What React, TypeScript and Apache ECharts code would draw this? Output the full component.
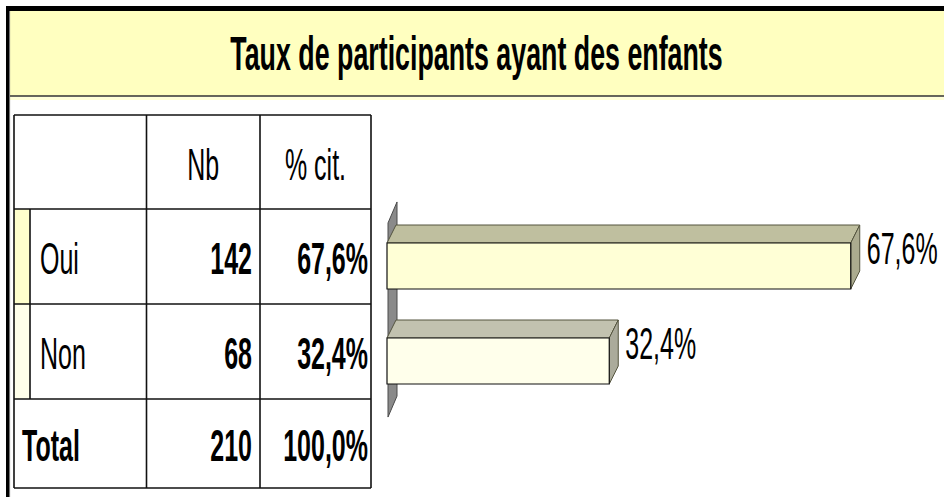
import React, { useEffect, useRef } from 'react';
import * as echarts from 'echarts';

const TITLE = 'Taux de participants ayant des enfants';
const categories = ['Oui', 'Non'];
const counts = [142, 68];
const percents = [67.6, 32.4];
const totalLabel = 'Total';
const totalCount = 210;
const totalPercent = 100.0;
const columnHeaders = ['Nb', '% cit.'];

const fmtPct = (v: number) => v.toFixed(1).replace('.', ',') + '%';

const FONT = '"Liberation Sans", Arial, sans-serif';
const FRONT = ['#FFFFD6', '#FFFFEB'];
const TOP = ['#BFBF9F', '#C2C2AF'];
const SIDE = ['#ABAB8F', '#ABAB9B'];
const STRIP = ['#FFFFCC', '#FFFFEA'];

export default function App() {
  const ref = useRef<HTMLDivElement>(null);

  useEffect(() => {
    const chart = echarts.init(ref.current as HTMLDivElement, null, { renderer: 'svg' });

    const FS = 25;
    const SY = 1.8;
    const txt = (text: string, x: number, y: number, align: string, bold: boolean) => ({
      type: 'text',
      x,
      y: y + 2.5,
      scaleY: SY,
      z: 10,
      style: {
        text,
        x: 0,
        y: 0,
        fontSize: FS,
        fontWeight: bold ? 'bold' : 'normal',
        fontFamily: FONT,
        fill: '#000',
        align,
        textAlign: align,
        verticalAlign: 'middle',
        textVerticalAlign: 'middle',
      },
    });

    // table geometry
    const colX = [14, 146.5, 260, 371];
    const tTop = 115;
    const rowH = [94, ...categories.map(() => 95), 89];
    const rowY: number[] = [tTop];
    rowH.forEach((h, i) => rowY.push(rowY[i] + h));
    const tBottom = rowY[rowY.length - 1];
    const lineStyle = { stroke: '#111', lineWidth: 1.6 };

    const graphics: any[] = [];
    // outer frame
    graphics.push({ type: 'rect', shape: { x: 10, y: 11, width: 940, height: 85 }, style: { fill: '#FFFFC0' } });
    graphics.push({ type: 'rect', shape: { x: 10, y: 96.5, width: 940, height: 3.5 }, style: { fill: '#FFFFD8' } });
    graphics.push({ type: 'line', shape: { x1: 10, y1: 96, x2: 944, y2: 96 }, style: { stroke: '#333', lineWidth: 1.6 } });
    graphics.push({ type: 'rect', shape: { x: 6, y: 6, width: 940, height: 5 }, style: { fill: '#000' } });
    graphics.push({ type: 'rect', shape: { x: 6, y: 6, width: 3, height: 495 }, style: { fill: '#000' } });
    graphics.push({ type: 'line', shape: { x1: 9.6, y1: 11, x2: 9.6, y2: 497 }, style: { stroke: '#666', lineWidth: 1 } });
    // title
    graphics.push({
      type: 'text',
      x: 476.5,
      y: 53.4,
      scaleY: 1.77,
      style: {
        text: TITLE,
        x: 0,
        y: 0,
        fontSize: 26.8,
        fontWeight: 'bold',
        fontFamily: FONT,
        fill: '#000',
        align: 'center',
        textAlign: 'center',
        verticalAlign: 'middle',
        textVerticalAlign: 'middle',
      },
    });

    // category strips
    categories.forEach((_, i) => {
      const y = rowY[i + 1];
      graphics.push({ type: 'rect', shape: { x: colX[0], y, width: 16, height: rowH[i + 1] }, style: { fill: STRIP[i % STRIP.length] } });
      graphics.push({ type: 'line', shape: { x1: colX[0] + 16, y1: y, x2: colX[0] + 16, y2: y + rowH[i + 1] }, style: lineStyle });
    });

    // table grid lines
    rowY.forEach((y) => {
      graphics.push({ type: 'line', shape: { x1: colX[0], y1: y, x2: colX[3], y2: y }, style: lineStyle });
    });
    colX.forEach((x) => {
      graphics.push({ type: 'line', shape: { x1: x, y1: tTop, x2: x, y2: tBottom }, style: lineStyle });
    });

    // header row
    const hc = rowY[0] + rowH[0] / 2;
    graphics.push(txt(columnHeaders[0], (colX[1] + colX[2]) / 2, hc, 'center', false));
    graphics.push(txt(columnHeaders[1], (colX[2] + colX[3]) / 2, hc, 'center', false));

    // data rows
    categories.forEach((c, i) => {
      const cy = rowY[i + 1] + rowH[i + 1] / 2;
      graphics.push(txt(c, 40, cy, 'left', false));
      graphics.push(txt(String(counts[i]), colX[2] - 8, cy, 'right', true));
      graphics.push(txt(fmtPct(percents[i]), colX[3] - 3, cy, 'right', true));
    });

    // total row
    const ti = categories.length + 1;
    const tc = rowY[ti] + rowH[ti] / 2;
    graphics.push(txt(totalLabel, 22, tc, 'left', true));
    graphics.push(txt(String(totalCount), colX[2] - 8, tc, 'right', true));
    graphics.push(txt(fmtPct(totalPercent), colX[3] - 3, tc, 'right', true));

    const DX = 9;
    const DY = -18;

    const option: any = {
      animation: false,
      grid: { left: 387, top: 218.5, height: 190, width: 548.8 },
      xAxis: { type: 'value', min: 0, max: 80, show: false },
      yAxis: { type: 'category', data: categories, inverse: true, show: false },
      series: [
        {
          type: 'custom',
          data: percents.map((v, i) => [v, i]),
          encode: { x: 0, y: 1 },
          renderItem: (params: any, api: any) => {
            const v = api.value(0);
            const ci = api.value(1);
            const p1 = api.coord([v, ci]);
            const p0 = api.coord([0, ci]);
            const x0 = p0[0];
            const x1 = p1[0];
            const cy = p1[1];
            const band = api.size([0, 1])[1];
            const h = band * 0.484;
            const y0 = cy - h / 2;
            const y1 = cy + h / 2;
            const children: any[] = [];
            if (params.dataIndex === 0) {
              const n = categories.length;
              const yTop = api.coord([0, 0])[1] - band * 0.453;
              const yBot = api.coord([0, n - 1])[1] + band * 0.59;
              const wx = x0 + 1;
              children.push({
                type: 'polygon',
                shape: { points: [[wx, yTop], [wx + DX, yTop - 21], [wx + DX, yBot - 21], [wx, yBot]] },
                style: { fill: '#8A8A8A', stroke: '#4A4A4A', lineWidth: 1 },
              });
            }
            const idx = params.dataIndex;
            children.push({
              type: 'polygon',
              shape: { points: [[x0, y0], [x0 + DX, y0 + DY], [x1 + DX, y0 + DY], [x1, y0]] },
              style: { fill: TOP[idx % TOP.length], stroke: '#55553F', lineWidth: 1 },
            });
            children.push({
              type: 'polygon',
              shape: { points: [[x1, y0], [x1 + DX, y0 + DY], [x1 + DX, y1 + DY], [x1, y1]] },
              style: { fill: SIDE[idx % SIDE.length], stroke: '#55553F', lineWidth: 1 },
            });
            children.push({
              type: 'polygon',
              shape: { points: [[x0, y0], [x1, y0], [x1, y1], [x0, y1]] },
              style: { fill: FRONT[idx % FRONT.length], stroke: '#111', lineWidth: 1.2 },
            });
            children.push({
              type: 'text',
              x: x1 + DX + 7,
              y: cy - 17,
              scaleY: SY,
              style: {
                text: fmtPct(v),
                x: 0,
                y: 0,
                fontSize: FS,
                fontFamily: FONT,
                fill: '#000',
                align: 'left',
                textAlign: 'left',
                verticalAlign: 'middle',
                textVerticalAlign: 'middle',
              },
            });
            return { type: 'group', children };
          },
        },
      ],
      graphic: graphics,
    };

    chart.setOption(option);
    return () => chart.dispose();
  }, []);

  return (
    <div
      ref={ref}
      style={{ position: 'fixed', left: 0, top: 0, width: 944, height: 497, background: '#fff' }}
    />
  );
}
